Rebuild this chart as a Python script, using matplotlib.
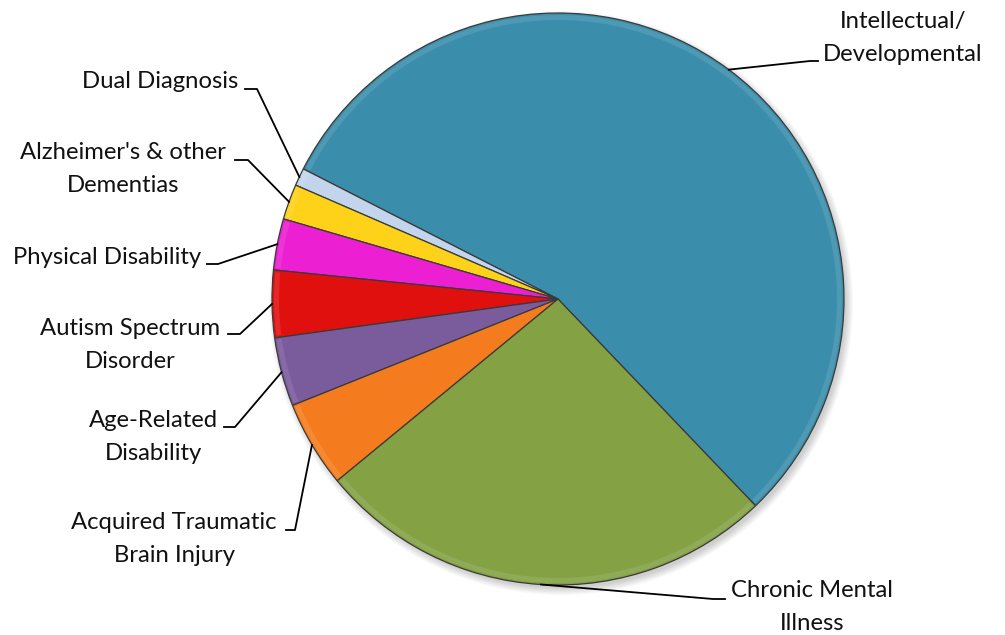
import numpy as np
import matplotlib.pyplot as plt
from matplotlib.patches import Circle, Wedge

plt.rcParams["font.family"] = ["Lato", "DejaVu Sans"]

# slice order: counter-clockwise starting at the lower-right edge of the big slice
labels = [
    "Intellectual/\nDevelopmental",
    "Dual Diagnosis",
    "Alzheimer's & other\nDementias",
    "Physical Disability",
    "Autism Spectrum\nDisorder",
    "Age-Related\nDisability",
    "Acquired Traumatic\nBrain Injury",
    "Chronic Mental\nIllness",
]
shares = [55.4, 1.0, 2.0, 2.9, 3.8, 3.9, 4.9, 26.2]
colors = ["#3a8eab", "#c3d5ec", "#ffd21a", "#ec1fd2", "#e0100f", "#7a5b9c", "#f57c1e", "#84a244"]

# label layout in pixels (y measured from top): text centre, elbow of leader
text_pos = [(903, 38), (160, 82), (123, 169), (107, 257), (130, 345), (153, 437), (174, 539), (812, 607)]
elbow = [((818, 61), (810, 61)), ((245, 89), (257, 89)), ((235, 160), (248, 160)),
         ((207, 264), (218, 264)), ((228, 334), (240, 334)), ((224, 427), (235, 427)),
         ((286, 530), (295, 530)), ((725, 599), (713, 599))]

W, H = 1005, 635
CX, CY, R = 558, 299, 286


def fy(y):
    return H - y


fig = plt.figure(figsize=(W / 100, H / 100), dpi=100)
ax = fig.add_axes([0, 0, 1, 1])

# soft drop shadow
for k in range(8):
    ax.add_patch(Circle((CX + 3, fy(CY) - 4), R + 6 - k, color="black", alpha=0.025, lw=0, zorder=0))

wedges, _ = ax.pie(shares, colors=colors, startangle=-46.3, counterclock=True,
                   center=(CX, fy(CY)), radius=R, frame=True,
                   wedgeprops=dict(edgecolor="#3a3a3a", linewidth=0.9))
ax.set_xlim(0, W)
ax.set_ylim(0, H)
ax.set_aspect("equal")
ax.axis("off")

# subtle bevel: lighter rim inside each wedge
for w in wedges:
    ax.add_patch(Wedge((CX, fy(CY)), R - 2, w.theta1 + 0.4, w.theta2 - 0.4,
                       width=5, facecolor="white", alpha=0.1, lw=0, zorder=3))

for w, lab, tp, (e0, e1) in zip(wedges, labels, text_pos, elbow):
    mid = np.deg2rad((w.theta1 + w.theta2) / 2)
    rx = CX + R * np.cos(mid)
    ry = fy(CY) + R * np.sin(mid)
    ax.plot([e0[0], e1[0], rx], [fy(e0[1]), fy(e1[1]), ry], color="black", lw=1.3, zorder=4)
    ax.text(tp[0], fy(tp[1]), lab, ha="center", va="center", fontsize=17.2,
            linespacing=1.65, color="#111111", zorder=5)

fig.savefig("out.png", dpi=100)
